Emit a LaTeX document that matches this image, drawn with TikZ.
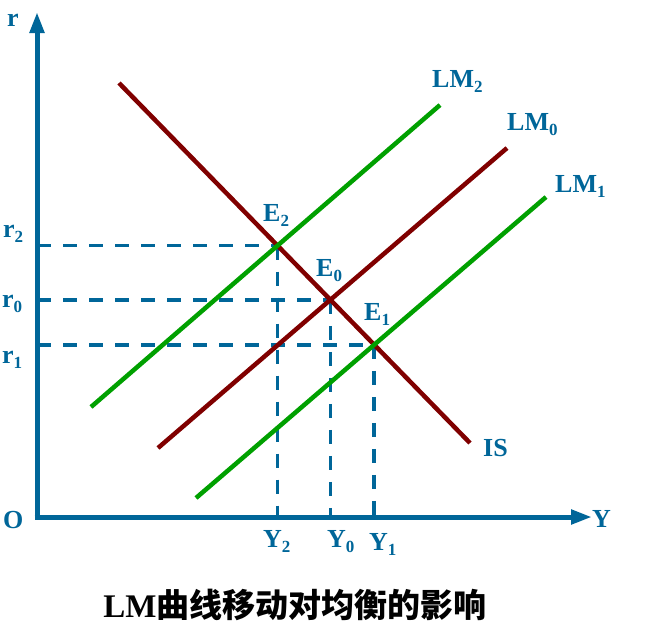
\documentclass[tikz,border=0pt]{standalone}
\usepackage{fontspec}
\setmainfont{Liberation Serif}
\newfontfamily\cjk{Noto Sans CJK SC}
\usetikzlibrary{arrows.meta,intersections}
\definecolor{axisblue}{RGB}{0,102,153}
\definecolor{isred}{RGB}{128,0,0}
\definecolor{lmgreen}{RGB}{0,160,0}
\newcommand{\lowidx}[1]{\raisebox{-5pt}{\fontsize{17}{17}\selectfont #1}}
\tikzset{
  axis/.style={line width=5pt, axisblue, -{Triangle[length=21pt,width=14pt]}},
  curve/.style={line width=4.5pt},
  guide/.style={axisblue, line width=3.5pt, dash pattern=on 14pt off 12pt},
  lbl/.style={text=axisblue, font=\fontsize{26}{26}\selectfont\bfseries, inner sep=0pt, anchor=base west},
}
\begin{document}
\begin{tikzpicture}[x=1pt,y=-1pt]
\useasboundingbox (0,0) rectangle (646,630);
% curves (paths first, drawn later)
\path[name path=IS]  (119,83) -- (470,443);
\path[name path=LM0] (158,448) -- (507,148);
\path[name path=LM2] (91,407) -- (440,105);
\path[name path=LM1] (196,498) -- (546,197);
\path[name intersections={of=IS and LM2, by=E2}];
\path[name intersections={of=IS and LM0, by=E0}];
\path[name intersections={of=IS and LM1, by=E1}];
\coordinate (O) at (37,517);
% guides
\foreach \p in {E2,E0,E1} {
  \draw[guide] (\p -| O) -- (\p);
  \draw[guide] (\p) -- (\p |- O);
}
% axes
\draw[axis] (37,519.5) -- (37,12);
\draw[axis] (34.5,517) -- (592,517);
% curves
\draw[curve, isred]   (119,83) -- (470,443);
\draw[curve, isred]   (158,448) -- (507,148);
\draw[curve, lmgreen] (91,407) -- (440,105);
\draw[curve, lmgreen] (196,498) -- (546,197);
% labels
\node[lbl] (rlab) at (7,26) {r};
\node[lbl] (olab) at (3,528) {O};
\node[lbl] (ylab) at (592,527) {Y};
\node[lbl] (r2) at (3,237) {r\lowidx{2}};
\node[lbl] (r0) at (2,307) {r\lowidx{0}};
\node[lbl] (r1) at (2,363) {r\lowidx{1}};
\node[lbl] (y2) at (263,547) {Y\lowidx{2}};
\node[lbl] (y0) at (327,547) {Y\lowidx{0}};
\node[lbl] (y1) at (369,550) {Y\lowidx{1}};
\node[lbl] (e2) at (263,221) {E\lowidx{2}};
\node[lbl] (e0) at (316,276) {E\lowidx{0}};
\node[lbl] (e1) at (364,320) {E\lowidx{1}};
\node[lbl] (lm2) at (432,87) {LM\lowidx{2}};
\node[lbl] (lm0) at (507,130) {LM\lowidx{0}};
\node[lbl] (lm1) at (555,192) {LM\lowidx{1}};
\node[lbl] (islab) at (483,456) {IS};
% title
\node[text=black, font=\fontsize{33}{33}\selectfont\bfseries, inner sep=0pt] (title) at (295,605) {LM{\cjk 曲线移动对均衡的影响}};
\end{tikzpicture}
\end{document}
